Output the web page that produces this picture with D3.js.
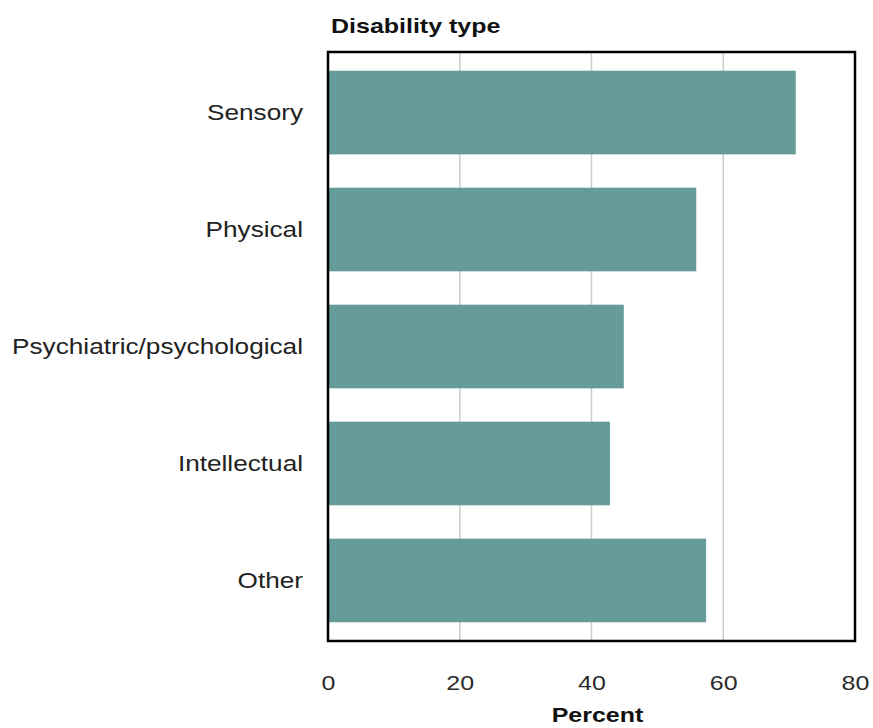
<!DOCTYPE html>
<html><head><meta charset="utf-8">
<script src="https://cdn.jsdelivr.net/npm/d3@7"></script>
<style>body{margin:0;background:#fff;}svg{display:block;font-family:"Liberation Sans",Arial,sans-serif;}</style>
</head><body>
<svg id="chart" width="873" height="728"></svg>
<script>
const categories = ["Sensory","Physical","Psychiatric/psychological","Intellectual","Other"];
const values = [71.0, 55.9, 44.9, 42.8, 57.4];
const xTicks = [0,20,40,60,80];

const svg = d3.select("#chart");
const m = {left:328, right:855, top:52, bottom:641};
const stretch = 1.19;
const x = d3.scaleLinear().domain([0,80]).range([m.left, m.right]);
const y = d3.scaleBand().domain(categories).range([m.top, m.bottom]).paddingInner(0.285).paddingOuter(0.16);

svg.append("g").selectAll("line").data(xTicks.filter(d=>d>0 && d<80)).join("line")
  .attr("x1",d=>x(d)).attr("x2",d=>x(d)).attr("y1",m.top).attr("y2",m.bottom)
  .attr("stroke","#cccccc").attr("stroke-width",1.5);

svg.append("g").selectAll("rect").data(categories).join("rect")
  .attr("x",x(0)).attr("y",d=>y(d)).attr("height",y.bandwidth())
  .attr("width",(d,i)=>x(values[i])-x(0)).attr("fill","#659b98");

svg.append("rect").attr("x",m.left).attr("y",m.top).attr("width",m.right-m.left).attr("height",m.bottom-m.top)
  .attr("fill","none").attr("stroke","#000").attr("stroke-width",2.5);

const xAxis = svg.append("g").attr("transform",`translate(0,${m.bottom})`)
  .call(d3.axisBottom(x).tickValues(xTicks).tickSize(0).tickPadding(34));
xAxis.select(".domain").remove();
xAxis.selectAll("text").attr("font-size",21).attr("fill","#2a2a2a")
  .attr("font-family","Liberation Sans, Arial, sans-serif")
  .attr("transform",`scale(${stretch},1)`);

const yAxis = svg.append("g").attr("transform",`translate(${m.left},0)`)
  .call(d3.axisLeft(y).tickSize(0).tickPadding(0));
yAxis.select(".domain").remove();
yAxis.selectAll("text").attr("x",0).attr("font-size",22).attr("fill","#222")
  .attr("font-family","Liberation Sans, Arial, sans-serif")
  .attr("transform",`translate(-25,0) scale(${stretch},1)`);

svg.append("text").attr("transform",`translate(331,33) scale(${stretch},1)`)
  .attr("font-size",21).attr("font-weight","bold").attr("fill","#111").text("Disability type");
svg.append("text").attr("transform",`translate(${(m.left+m.right)/2+6},722) scale(${stretch},1)`)
  .attr("text-anchor","middle").attr("font-size",21).attr("font-weight","bold").attr("fill","#111").text("Percent");
</script>
</body></html>
